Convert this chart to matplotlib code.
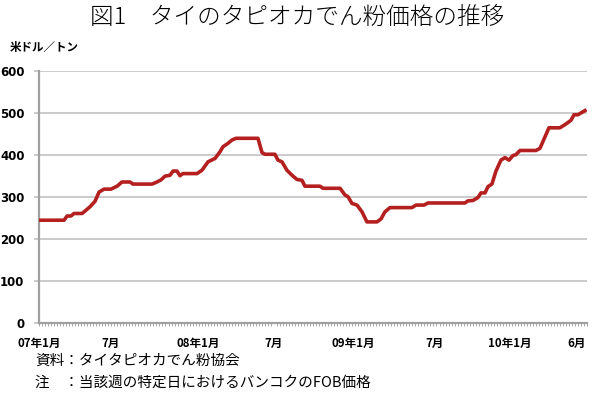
import numpy as np
import matplotlib.pyplot as plt
from matplotlib.ticker import MultipleLocator

plt.rcParams['font.family'] = ['Noto Sans CJK JP', 'DejaVu Sans']

# months elapsed since Jan 2007 (weekly price changes)
months = [0.00, 1.92, 2.15, 2.45, 2.68, 3.30, 3.91, 4.29, 4.60, 4.98,
          5.52, 5.98, 6.36, 6.97, 7.20, 8.66, 9.04, 9.35, 9.66, 10.04,
          10.27, 10.57, 10.80, 11.03, 12.11, 12.49, 12.95, 13.49, 13.87, 14.10,
          14.48, 14.79, 15.10, 16.78, 17.09, 17.32, 18.08, 18.31, 18.62, 19.00,
          19.39, 19.77, 20.15, 20.38, 21.53, 21.76, 23.07, 23.45, 23.68, 23.98,
          24.37, 24.75, 25.13, 25.90, 26.21, 26.51, 26.90, 28.58, 28.89, 29.50,
          29.81, 32.64, 32.87, 33.26, 33.64, 33.87, 34.18, 34.41, 34.71, 35.02,
          35.40, 35.71, 36.02, 36.32, 36.55, 36.86, 38.08, 38.39, 39.08, 39.92,
          40.38, 40.77, 41.00, 41.30, 41.84]
price = [245, 245, 255, 255, 261, 261, 277, 290, 312, 319,
         319, 326, 336, 336, 331, 331, 336, 341, 350, 352,
         362, 362, 351, 356, 356, 364, 384, 392, 408, 420,
         428, 436, 440, 440, 406, 402, 402, 388, 384, 364,
         352, 342, 340, 326, 326, 321, 321, 305, 301, 285,
         281, 265, 241, 241, 248, 265, 275, 275, 281, 281,
         286, 286, 291, 292, 299, 310, 310, 325, 331, 362,
         388, 394, 388, 399, 401, 411, 411, 416, 465, 465,
         474, 483, 496, 496, 506]

tick_pos = [0.05, 5.5, 12.2, 18.0, 24.05, 30.3, 36.05, 41.2]
tick_labels = ['07年1月', '7月', '08年1月', '7月', '09年1月', '7月', '10年1月', '6月']
y_ticks = [0, 100, 200, 300, 400, 500, 600]

fig = plt.figure(figsize=(5.94, 3.95), dpi=100)
ax = fig.add_axes([0.0657, 0.182, 0.9226, 0.638])

ax.plot(months, price, color='#b3201f', lw=2.6, solid_joinstyle='round', zorder=3)

ax.set_xlim(0, 42.0)
ax.set_ylim(0, 600)
ax.set_yticks(y_ticks)
ax.set_yticklabels([str(v) for v in y_ticks], fontsize=8.5, fontweight='bold',
                   family=['DejaVu Sans'])
ax.yaxis.grid(True, color='#bdbdbd', lw=1.1)
ax.set_axisbelow(True)

ax.set_xticks(tick_pos)
ax.set_xticklabels(tick_labels, fontsize=8.3, fontweight='bold')
ax.xaxis.set_minor_locator(MultipleLocator(12 / 52))
ax.tick_params(axis='x', which='major', length=0, pad=10)
ax.tick_params(axis='x', which='minor', length=2, width=0.6, color='#999999')
ax.tick_params(axis='y', length=3.5, width=1.1, color='#bdbdbd', pad=7)

for s in ['top', 'right']:
    ax.spines[s].set_visible(False)
ax.spines['left'].set_color('#a0a0a0')
ax.spines['left'].set_linewidth(1.6)
ax.spines['bottom'].set_color('#a0a0a0')
ax.spines['bottom'].set_linewidth(1.6)

fig.text(0.5, 0.957, '図1　タイのタピオカでん粉価格の推移', ha='center', va='center',
         fontsize=17, fontweight='light')
fig.text(0.017, 0.881, '米ドル／トン', ha='left', va='center', fontsize=8.3,
         fontweight='bold')
fig.text(0.059, 0.086, '資料：タイタピオカでん粉協会', ha='left', va='center',
         fontsize=10.5)
fig.text(0.059, 0.030, '注　：当該週の特定日におけるバンコクのFOB価格', ha='left',
         va='center', fontsize=10.5)

fig.savefig('out.png', dpi=100)
